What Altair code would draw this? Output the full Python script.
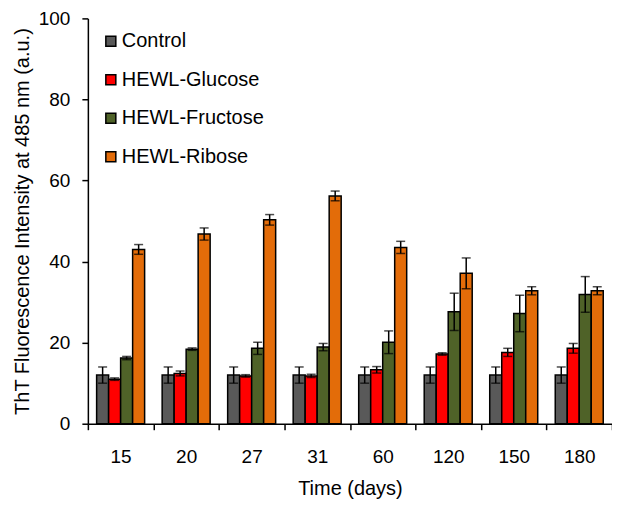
import altair as alt
import pandas as pd

days = ["15", "20", "27", "31", "60", "120", "150", "180"]
series = ["Control", "HEWL-Glucose", "HEWL-Fructose", "HEWL-Ribose"]
colors = ["#595959", "#FF0000", "#4F6228", "#E36C09"]

control = [12.0, 12.0, 12.0, 12.0, 12.0, 12.0, 12.0, 12.0]
control_err = [2.0, 2.0, 2.0, 2.0, 2.0, 2.0, 2.0, 2.0]
glucose = [11.0, 12.4, 11.8, 11.8, 13.3, 17.2, 17.6, 18.6]
glucose_err = [0.3, 0.6, 0.3, 0.4, 0.8, 0.3, 1.0, 1.2]
fructose = [16.2, 18.4, 18.6, 18.9, 20.1, 27.6, 27.2, 31.9]
fructose_err = [0.4, 0.3, 1.5, 0.9, 2.8, 4.6, 4.5, 4.4]
ribose = [43.0, 46.8, 50.3, 56.2, 43.5, 37.1, 32.8, 32.8]
ribose_err = [1.2, 1.5, 1.3, 1.2, 1.5, 3.8, 1.0, 1.0]

vals = [control, glucose, fructose, ribose]
errs = [control_err, glucose_err, fructose_err, ribose_err]

rows = []
for s, v, e in zip(series, vals, errs):
    for d, vv, ee in zip(days, v, e):
        rows.append({"day": d, "series": s, "value": vv, "lo": vv - ee, "hi": vv + ee})
df = pd.DataFrame(rows)

FONT = "Liberation Sans"

x = alt.X("day:N", sort=days, title="Time (days)",
          scale=alt.Scale(paddingInner=0, paddingOuter=0),
          axis=alt.Axis(labelAngle=0, tickBand="extent", labelFontSize=19,
                        titleFontSize=20, titleFontWeight="normal", labelPadding=18,
                        titlePadding=12, domainColor="black", tickColor="black",
                        tickWidth=1.5, domainWidth=1.5, tickSize=6, labelColor="black",
                        titleColor="black", labelFont=FONT, titleFont=FONT))
xoff = alt.XOffset("series:N", sort=series,
                   scale=alt.Scale(paddingInner=0, paddingOuter=0.73))

base = alt.Chart(df)

bars = base.mark_bar(stroke="black", strokeWidth=1.5).encode(
    x=x,
    xOffset=xoff,
    y=alt.Y("value:Q", title="ThT Fluorescence Intensity at 485 nm (a.u.)",
            scale=alt.Scale(domain=[0, 100], nice=False),
            axis=alt.Axis(values=[0, 20, 40, 60, 80, 100], grid=False, labelFontSize=19,
                          titleFontSize=20, titleFontWeight="normal", labelPadding=12,
                          titlePadding=6, domainColor="black", tickColor="black",
                          tickWidth=1.5, domainWidth=1.5, tickSize=6, labelColor="black",
                          titleColor="black", labelFont=FONT, titleFont=FONT)),
    fill=alt.Fill("series:N", sort=series, title=None,
                  scale=alt.Scale(domain=series, range=colors),
                  legend=alt.Legend(orient="none", legendX=13, legendY=13,
                                    symbolType="square", symbolSize=100,
                                    symbolStrokeColor="black", symbolStrokeWidth=1.5,
                                    labelFontSize=20, labelFont=FONT, labelColor="black",
                                    rowPadding=18.5, labelOffset=1)),
)

rules = base.mark_rule(color="black", strokeWidth=1.5).encode(
    x=alt.X("day:N", sort=days),
    xOffset=xoff,
    y="lo:Q",
    y2="hi:Q",
)

caps_hi = base.mark_tick(color="black", thickness=1.5, size=9).encode(
    x=alt.X("day:N", sort=days),
    xOffset=xoff,
    y="hi:Q",
)
caps_lo = base.mark_tick(color="black", thickness=1.5, size=9).encode(
    x=alt.X("day:N", sort=days),
    xOffset=xoff,
    y="lo:Q",
)

chart = alt.layer(bars, rules, caps_hi, caps_lo).properties(
    width=525, height=406, background="white",
    autosize=alt.AutoSizeParams(type="none"),
    padding={"left": 80, "top": 10, "right": 0, "bottom": 76},
).configure_view(stroke=None)

chart.save("out.html", embed_options={"renderer": "svg", "actions": False})
